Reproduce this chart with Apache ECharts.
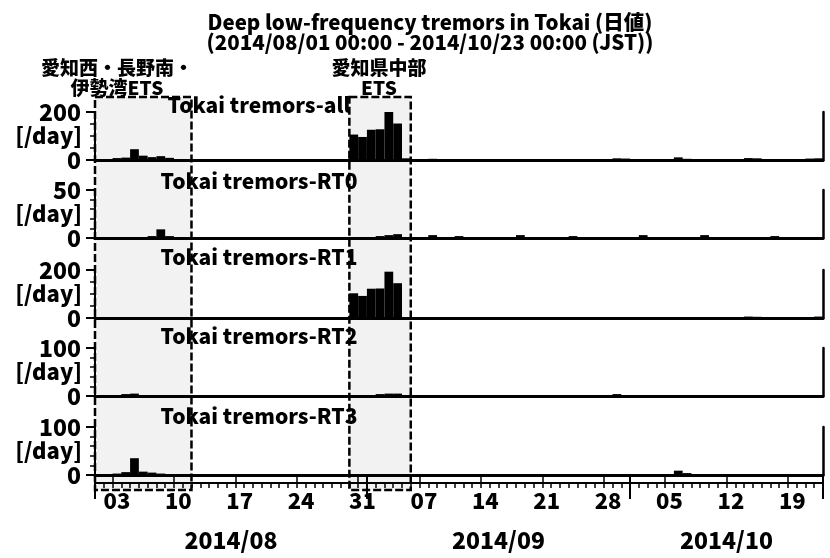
<!DOCTYPE html>
<html>
<head>
<meta charset="utf-8">
<script src="https://cdn.jsdelivr.net/npm/echarts@6/dist/echarts.min.js"></script>
<style>
html, body { margin: 0; padding: 0; background: #fff; }
#chart { width: 830px; height: 558px; }
</style>
</head>
<body>
<div id="chart"></div>
<script>
// Daily counts of deep low-frequency tremors, 2014/08/01 - 2014/10/22 (83 days)
const firstDay = [2014, 8, 1];
const dayCount = 83;

const countsAll = [
  2, 3, 8, 10, 45, 18, 12, 16, 9, 4, 3,
  2, 1, 2, 1, 1, 2, 1, 2, 3, 2, 1, 1, 2, 1, 3, 2, 1, 2,
  106, 96, 126, 128, 200, 152, 7,
  3, 2, 5, 1, 2, 4, 2, 1, 1, 2, 1, 3, 4, 2, 1, 2, 2, 1, 3, 2, 1, 2, 2, 7, 6,
  2, 3, 4, 2, 3, 11, 5, 2, 3, 4, 2, 2, 3, 8, 7, 3, 2, 3, 2, 3, 6, 7
];
const countsRT0 = [
  0, 1, 1, 1, 1, 1, 2, 9, 2, 1, 1,
  0, 1, 0, 0, 1, 0, 0, 1, 0, 0, 1, 0, 0, 1, 0, 0, 1, 0,
  1, 1, 1, 2, 3, 4, 1,
  1, 1, 3, 1, 1, 2, 1, 0, 1, 1, 1, 1, 3, 1, 1, 1, 1, 1, 2, 1, 1, 0, 1, 1, 1,
  1, 3, 1, 1, 1, 1, 1, 1, 3, 1, 1, 1, 1, 1, 1, 1, 2, 1, 1, 1, 1, 1
];
const countsRT1 = [
  0, 0, 1, 1, 1, 1, 0, 1, 1, 0, 1,
  1, 0, 1, 0, 0, 1, 1, 2, 2, 1, 0, 0, 1, 1, 2, 1, 0, 1,
  103, 92, 122, 123, 193, 145, 4,
  1, 1, 0, 0, 0, 1, 1, 0, 0, 1, 0, 1, 0, 1, 0, 1, 1, 0, 0, 1, 0, 1, 1, 1, 2,
  0, 0, 1, 1, 1, 1, 2, 0, 0, 1, 0, 1, 1, 6, 5, 1, 0, 1, 0, 1, 4, 6
];
const countsRT2 = [
  1, 1, 2, 4, 5, 2, 1, 0, 1, 0, 0,
  0, 0, 1, 0, 0, 0, 0, 0, 0, 1, 0, 0, 0, 0, 1, 0, 0, 0,
  1, 1, 2, 4, 5, 5, 1,
  0, 0, 1, 0, 0, 1, 0, 0, 0, 0, 0, 1, 0, 0, 0, 1, 0, 0, 0, 0, 1, 0, 1, 4, 2,
  1, 0, 1, 0, 1, 0, 1, 0, 0, 0, 0, 1, 0, 0, 1, 0, 0, 1, 0, 0, 1, 0
];
const countsRT3 = [
  1, 2, 3, 6, 35, 7, 5, 3, 2, 1, 1,
  0, 0, 0, 0, 1, 0, 0, 0, 0, 0, 0, 1, 0, 0, 0, 0, 0, 0,
  1, 1, 1, 1, 1, 2, 1,
  0, 1, 0, 0, 0, 0, 0, 0, 1, 0, 0, 0, 0, 0, 0, 0, 0, 0, 0, 0, 0, 0, 0, 1, 1,
  0, 0, 0, 0, 1, 9, 4, 1, 0, 0, 0, 0, 0, 1, 0, 0, 0, 0, 1, 0, 0, 0
];

const panelNames = ['Tokai tremors-all', 'Tokai tremors-RT0', 'Tokai tremors-RT1', 'Tokai tremors-RT2', 'Tokai tremors-RT3'];
const panelMax = [200, 50, 200, 100, 100];
const panelMinorSplits = [4, 5, 4, 5, 5];
const monthLabels = ['2014/08', '2014/09', '2014/10'];
const etsPeriods = [['2014/08/01', '2014/08/11'], ['2014/08/30', '2014/09/05']];
const etsNames = ['愛知西・長野南・\n伊勢湾ETS', '愛知県中部\nETS'];
const titleLines = ['Deep low-frequency tremors in Tokai (日値)', '(2014/08/01 00:00 - 2014/10/23 00:00 (JST))'];

// ---- category labels (YYYY/MM/DD) ----
const pad2 = n => (n < 10 ? '0' : '') + n;
const days = [];
for (let i = 0; i < dayCount; i++) {
  const d = new Date(Date.UTC(firstDay[0], firstDay[1] - 1, firstDay[2] + i));
  days.push(d.getUTCFullYear() + '/' + pad2(d.getUTCMonth() + 1) + '/' + pad2(d.getUTCDate()));
}
const monthStarts = [];
days.forEach((d, i) => { if (d.endsWith('/01')) monthStarts.push(i); });
const monthEdges = monthStarts.concat([dayCount]);
const monthCentres = monthStarts.map((s, k) => (s + monthEdges[k + 1]) / 2);
const isWeekLabel = idx => (idx - 2) % 7 === 0;

const series = [countsAll, countsRT0, countsRT1, countsRT2, countsRT3];

// ---- layout ----
const FONT = "'Noto Sans CJK JP', 'Noto Sans', sans-serif";
const WEIGHT = '900';
const gridTops = [112, 190, 270, 348, 427];
const gridHeight = 48;
const gridLeft = 95;
const gridRight = 7;
const titleY = [105, 181, 257, 336, 416];
const boxTop = 97;
const boxBottom = 490;
const BLACK = '#000';

const grids = [], xAxes = [], yAxes = [], seriesList = [], graphics = [];

for (let i = 0; i < 5; i++) {
  grids.push({
    left: gridLeft, right: gridRight, top: gridTops[i], height: gridHeight,
    containLabel: false, outerBoundsMode: 'none'
  });

  xAxes.push({
    type: 'category', gridIndex: i, data: days, position: 'bottom',
    axisLine: { show: true, onZero: false, lineStyle: { color: BLACK, width: 3 } },
    axisTick: { show: false, interval: 0 }, axisLabel: { show: false, interval: 0 }, splitLine: { show: false }
  });

  yAxes.push({
    type: 'value', gridIndex: i, min: 0, max: panelMax[i], interval: panelMax[i], position: 'left',
    axisLine: { show: true, onZero: false, lineStyle: { color: BLACK, width: 2 } },
    axisTick: { show: true, inside: false, length: 9, lineStyle: { color: BLACK, width: 2 } },
    minorTick: { show: true, splitNumber: panelMinorSplits[i], length: 5, lineStyle: { color: BLACK, width: 1.5 } },
    axisLabel: { show: true, margin: 14, color: BLACK, fontFamily: FONT, fontWeight: WEIGHT, fontSize: 23 },
    splitLine: { show: false },
    name: '[/day]', nameLocation: 'middle', nameRotate: 0, nameGap: 13, nameMoveOverlap: false,
    nameTextStyle: { color: BLACK, fontFamily: FONT, fontWeight: WEIGHT, fontSize: 22, align: 'right', verticalAlign: 'middle' }
  });
}
// right-hand frame line of every panel
for (let i = 0; i < 5; i++) {
  yAxes.push({
    type: 'value', gridIndex: i, min: 0, max: panelMax[i], position: 'right',
    axisLine: { show: true, onZero: false, lineStyle: { color: BLACK, width: 2.5 } },
    axisTick: { show: false }, axisLabel: { show: false }, splitLine: { show: false }
  });
}

// time axis under the bottom panel: day ticks + day labels
const dayLabelStyle = { color: BLACK, fontFamily: FONT, fontWeight: WEIGHT, fontSize: 22 };
xAxes.push({
  type: 'category', gridIndex: 4, data: days, position: 'bottom', offset: 8,
  axisLine: { show: true, onZero: false, lineStyle: { color: BLACK, width: 2 } },
  axisTick: { show: true, interval: 0, length: 5, lineStyle: { color: BLACK, width: 1.5 } },
  axisLabel: Object.assign({ show: true, margin: 7, interval: isWeekLabel, formatter: v => v.slice(8) }, dayLabelStyle),
  splitLine: { show: false }
});
// weekly ticks
xAxes.push({
  type: 'category', gridIndex: 4, data: days, position: 'bottom', offset: 8,
  axisLine: { show: false },
  axisTick: { show: true, interval: isWeekLabel, length: 9, lineStyle: { color: BLACK, width: 1.5 } },
  axisLabel: { show: false }, splitLine: { show: false }
});
// month boundaries
xAxes.push({
  type: 'category', gridIndex: 4, data: days, position: 'bottom', offset: 8,
  axisLine: { show: false },
  axisTick: { show: true, interval: idx => monthStarts.indexOf(idx) >= 0, length: 24, lineStyle: { color: BLACK, width: 2 } },
  axisLabel: { show: false }, splitLine: { show: false }
});
// month names centred on each month
xAxes.push({
  type: 'value', gridIndex: 4, min: 0, max: dayCount, position: 'bottom', offset: 8,
  axisLine: { show: false }, axisTick: { show: false }, splitLine: { show: false },
  axisLabel: Object.assign({
    show: true, margin: 46, customValues: monthCentres, showMinLabel: true, showMaxLabel: true,
    formatter: v => monthLabels[monthCentres.indexOf(v)] || ''
  }, dayLabelStyle, { fontSize: 23 })
});

for (let i = 0; i < 5; i++) {
  const s = {
    type: 'bar', name: panelNames[i], xAxisIndex: i, yAxisIndex: i,
    data: series[i], barCategoryGap: '0%', barGap: '0%',
    itemStyle: { color: BLACK }, silent: true, animation: false
  };
  if (i === 4) {
    s.clip = false;
    s.markArea = {
      silent: true,
      itemStyle: { color: 'rgba(0,0,0,0.05)', borderColor: BLACK, borderWidth: 2.5, borderType: [8, 3] },
      label: { show: false },
      data: etsPeriods.map(p => [{ xAxis: p[0], y: boxTop }, { xAxis: p[1], y: boxBottom }])
    };
  }
  seriesList.push(s);
}

// text: title, ETS names, panel names
const textStyle = (txt, size, lh) => ({
  text: txt, fill: BLACK, font: WEIGHT + ' ' + size + 'px ' + FONT,
  textAlign: 'center', textVerticalAlign: 'middle', lineHeight: lh
});
graphics.push({ type: 'text', x: 430, y: 22, z: 100, style: textStyle(titleLines[0], 20.5, 22) });
graphics.push({ type: 'text', x: 430, y: 42, z: 100, style: textStyle(titleLines[1], 20.5, 22) });
const etsLabelX = [117, 379];
etsNames.forEach((t, k) => {
  graphics.push({ type: 'text', x: etsLabelX[k], y: 78, z: 100, style: textStyle(t, 19, 20) });
});
panelNames.forEach((t, i) => {
  graphics.push({ type: 'text', x: 259, y: titleY[i], z: 100, style: textStyle(t, 21, 24) });
});

const chart = echarts.init(document.getElementById('chart'), null, { renderer: 'canvas' });
chart.setOption({
  animation: false,
  backgroundColor: '#fff',
  grid: grids,
  xAxis: xAxes,
  yAxis: yAxes,
  series: seriesList,
  graphic: graphics
});
</script>
</body>
</html>
